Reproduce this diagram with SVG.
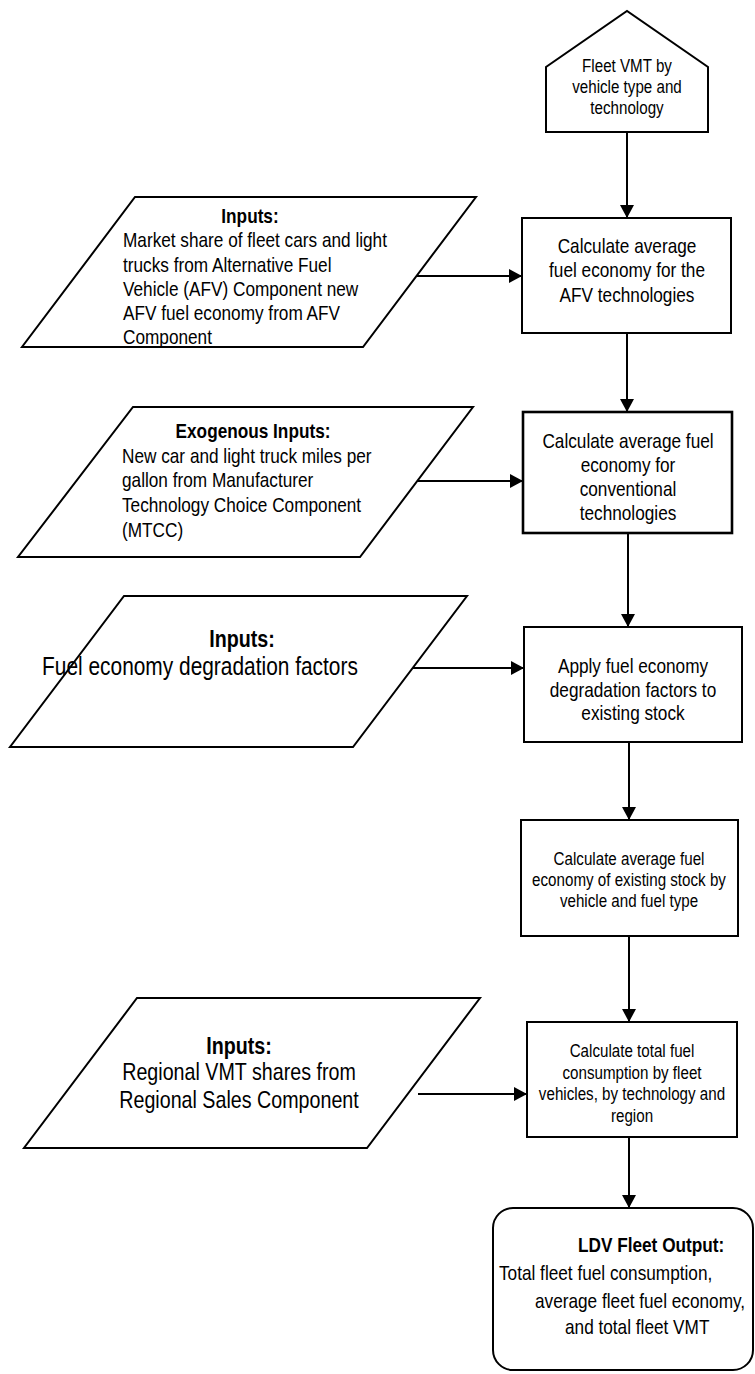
<svg xmlns="http://www.w3.org/2000/svg" width="755" height="1374" viewBox="0 0 755 1374">
<style>
.shape{fill:#fff;stroke:#000;stroke-width:2}
.thick{stroke-width:2.6}
.t{font-family:"Liberation Sans",Arial,sans-serif;fill:#000}
.c{text-anchor:middle}
.b{font-weight:bold}
.s18{font-size:18.5px}
.s21{font-size:21px}
.s24{font-size:24px}
.s25{font-size:25.5px}
.conn{fill:none;stroke:#000;stroke-width:2;marker-end:url(#arr)}
</style>
<defs>
<marker id="arr" markerUnits="userSpaceOnUse" markerWidth="14" markerHeight="14" refX="13" refY="7" orient="auto">
<path d="M0,0 L13,7 L0,14 z" fill="#000"/>
</marker>
</defs>
<g id="connectors">
<path class="conn" d="M627,132 V218"/>
<path class="conn" d="M627,333 V412"/>
<path class="conn" d="M417,276 H522"/>
<path class="conn" d="M417,481 H523"/>
<path class="conn" d="M628,533 V627"/>
<path class="conn" d="M413,668 H524"/>
<path class="conn" d="M629,742 V820"/>
<path class="conn" d="M629,936 V1022"/>
<path class="conn" d="M418,1094 H527"/>
<path class="conn" d="M629,1137 V1208"/>
</g>
<g id="fleet-vmt">
<polygon class="shape" points="546,132 546,67 627,11 708,67 708,132"/>
<text class="t c s18" transform="translate(627,72) scale(0.82,1)">Fleet VMT by</text>
<text class="t c s18" transform="translate(627,93) scale(0.82,1)">vehicle type and</text>
<text class="t c s18" transform="translate(627,114) scale(0.82,1)">technology</text>
</g>
<g id="inputs-afv">
<polygon class="shape" points="135,197 476,197 363,347 22,347"/>
<text class="t c b s21" transform="translate(250,223) scale(0.82,1)">Inputs:</text>
<text class="t s21" transform="translate(123,247) scale(0.82,1)">Market share of fleet cars and light</text>
<text class="t s21" transform="translate(123,272) scale(0.82,1)">trucks from Alternative Fuel</text>
<text class="t s21" transform="translate(123,296) scale(0.82,1)">Vehicle (AFV) Component new</text>
<text class="t s21" transform="translate(123,320) scale(0.82,1)">AFV fuel economy from AFV</text>
<text class="t s21" transform="translate(123,344) scale(0.82,1)">Component</text>
</g>
<g id="calc-afv">
<rect class="shape" x="522" y="218" width="209" height="115"/>
<text class="t c s21" transform="translate(627,253) scale(0.82,1)">Calculate average</text>
<text class="t c s21" transform="translate(627,277) scale(0.82,1)">fuel economy for the</text>
<text class="t c s21" transform="translate(627,302) scale(0.82,1)">AFV technologies</text>
</g>
<g id="exogenous-inputs">
<polygon class="shape" points="133,407 473,407 360,557 18,557"/>
<text class="t c b s21" transform="translate(253,438) scale(0.82,1)">Exogenous Inputs:</text>
<text class="t s21" transform="translate(122,463) scale(0.82,1)">New car and light truck miles per</text>
<text class="t s21" transform="translate(122,487) scale(0.82,1)">gallon from Manufacturer</text>
<text class="t s21" transform="translate(122,512) scale(0.82,1)">Technology Choice Component</text>
<text class="t s21" transform="translate(122,537) scale(0.82,1)">(MTCC)</text>
</g>
<g id="calc-conventional">
<rect class="shape thick" x="523" y="412" width="209" height="121"/>
<text class="t c s21" transform="translate(628,448) scale(0.82,1)">Calculate average fuel</text>
<text class="t c s21" transform="translate(628,472) scale(0.82,1)">economy for</text>
<text class="t c s21" transform="translate(628,496) scale(0.82,1)">conventional</text>
<text class="t c s21" transform="translate(628,520) scale(0.82,1)">technologies</text>
</g>
<g id="inputs-degradation">
<polygon class="shape" points="124,596 467,596 353,747 10,747"/>
<text class="t c b s24" transform="translate(242,647) scale(0.82,1)">Inputs:</text>
<text class="t s25" transform="translate(42,675) scale(0.82,1)">Fuel economy degradation factors</text>
</g>
<g id="apply-degradation">
<rect class="shape" x="524" y="627" width="218" height="115"/>
<text class="t c s21" transform="translate(633,673) scale(0.82,1)">Apply fuel economy</text>
<text class="t c s21" transform="translate(633,697) scale(0.82,1)">degradation factors to</text>
<text class="t c s21" transform="translate(633,720) scale(0.82,1)">existing stock</text>
</g>
<g id="calc-existing">
<rect class="shape" x="521" y="820" width="217" height="116"/>
<text class="t c s18" transform="translate(629,865) scale(0.82,1)">Calculate average fuel</text>
<text class="t c s18" transform="translate(629,886) scale(0.82,1)">economy of existing stock by</text>
<text class="t c s18" transform="translate(629,907) scale(0.82,1)">vehicle and fuel type</text>
</g>
<g id="inputs-regional">
<polygon class="shape" points="137,998 480,998 367,1148 24,1148"/>
<text class="t c b s24" transform="translate(239,1054) scale(0.82,1)">Inputs:</text>
<text class="t c s24" transform="translate(239,1080) scale(0.82,1)">Regional VMT shares from</text>
<text class="t c s24" transform="translate(239,1108) scale(0.82,1)">Regional Sales Component</text>
</g>
<g id="calc-total">
<rect class="shape" x="527" y="1022" width="210" height="115"/>
<text class="t c s18" transform="translate(632,1057) scale(0.82,1)">Calculate total fuel</text>
<text class="t c s18" transform="translate(632,1079) scale(0.82,1)">consumption by fleet</text>
<text class="t c s18" transform="translate(632,1100) scale(0.82,1)">vehicles, by technology and</text>
<text class="t c s18" transform="translate(632,1122) scale(0.82,1)">region</text>
</g>
<g id="ldv-output">
<rect class="shape" x="493" y="1208" width="260" height="162" rx="20" ry="20"/>
<text class="t b s21" transform="translate(578,1252) scale(0.82,1)">LDV Fleet Output:</text>
<text class="t s21" transform="translate(499,1280) scale(0.82,1)">Total fleet fuel consumption,</text>
<text class="t s21" transform="translate(535,1308) scale(0.82,1)">average fleet fuel economy,</text>
<text class="t s21" transform="translate(565,1334) scale(0.82,1)">and total fleet VMT</text>
</g>
</svg>
